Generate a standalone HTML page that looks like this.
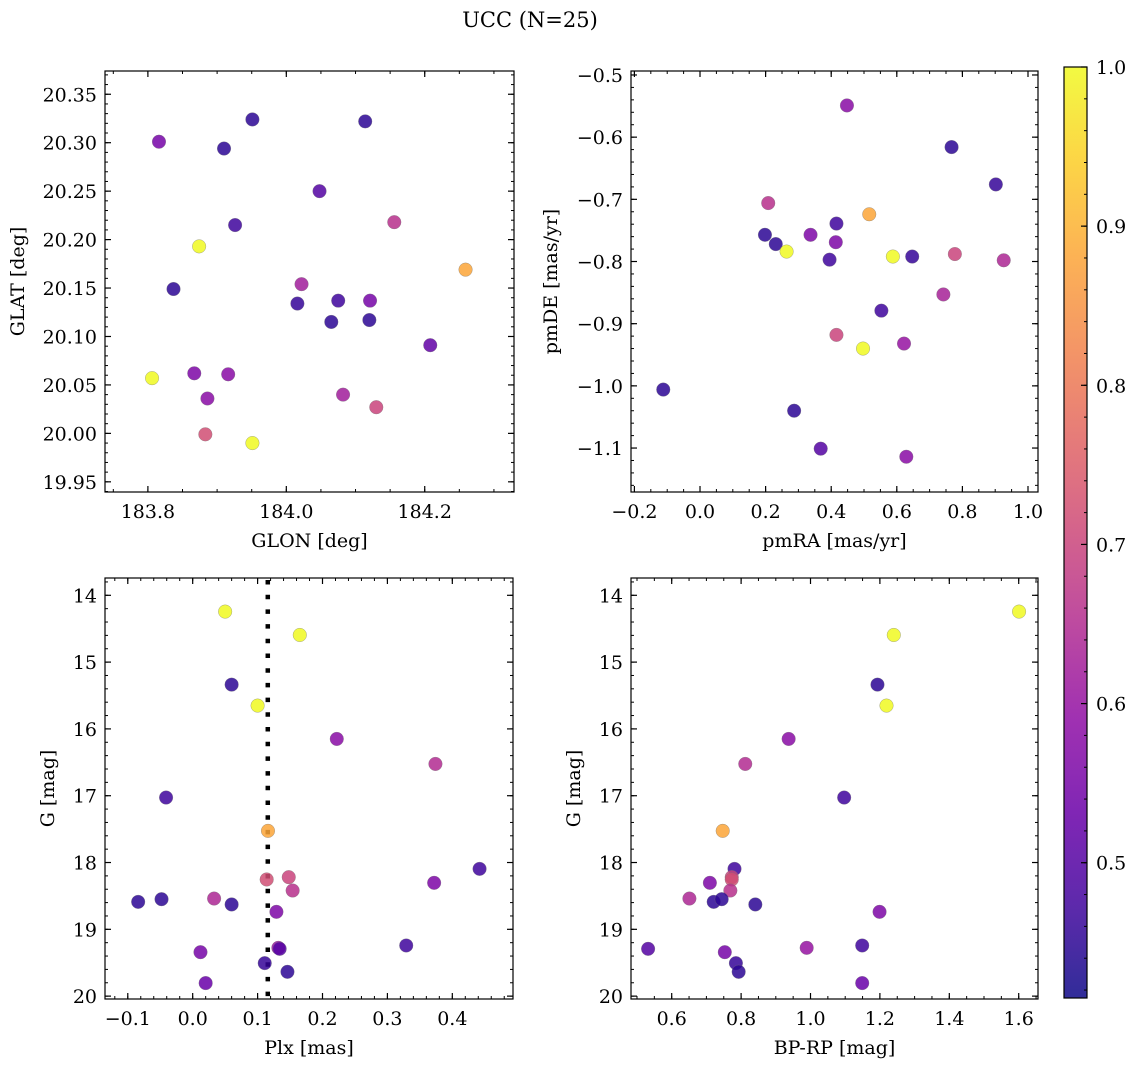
<!DOCTYPE html>
<html><head><meta charset="utf-8"><style>
html,body{margin:0;padding:0;background:#fff;}
svg{display:block;font-family:"DejaVu Serif","Liberation Serif",serif;}
</style></head><body>
<svg id="fig" width="1136" height="1067" viewBox="0 0 1136 1067" xmlns="http://www.w3.org/2000/svg">
<text x="530" y="27" font-size="21" text-anchor="middle">UCC (N=25)</text>
</svg>
<script>
const p1X=[183.816,183.910,183.951,184.114,184.048,183.926,183.874,184.156,184.259,184.022,183.837,184.016,184.075,184.121,184.065,184.120,184.208,183.806,183.867,183.916,183.886,184.082,184.130,183.883,183.951];
const p1Y=[20.301,20.294,20.324,20.322,20.250,20.215,20.193,20.218,20.169,20.154,20.149,20.134,20.137,20.137,20.115,20.117,20.091,20.057,20.062,20.061,20.036,20.040,20.027,19.999,19.990];
const p1C=[0.55,0.45,0.45,0.45,0.5,0.47,1.0,0.66,0.88,0.62,0.45,0.46,0.47,0.55,0.45,0.45,0.52,1.0,0.56,0.58,0.58,0.62,0.7,0.72,1.0];
const p2X=[0.448,0.767,0.902,0.208,0.516,0.416,0.198,0.337,0.231,0.414,0.264,0.395,0.588,0.647,0.777,0.926,0.742,0.553,0.416,0.497,0.622,-0.112,0.287,0.368,0.629];
const p2Y=[-0.549,-0.616,-0.676,-0.706,-0.724,-0.739,-0.757,-0.757,-0.772,-0.769,-0.784,-0.797,-0.792,-0.792,-0.788,-0.798,-0.853,-0.879,-0.918,-0.940,-0.932,-1.006,-1.040,-1.101,-1.114];
const p2C=[0.58,0.45,0.46,0.66,0.88,0.47,0.45,0.56,0.45,0.56,1.0,0.47,1.0,0.46,0.7,0.64,0.63,0.47,0.7,1.0,0.6,0.45,0.45,0.5,0.58];
const p3X=[0.050,0.165,0.060,0.100,0.222,0.374,-0.041,0.116,0.442,0.148,0.114,0.372,0.154,-0.084,-0.048,0.033,0.060,0.129,0.329,0.132,0.134,0.012,0.111,0.146,0.020];
const gMag=[14.244,14.594,15.337,15.651,16.150,16.524,17.027,17.526,18.095,18.219,18.254,18.304,18.419,18.589,18.549,18.539,18.628,18.738,19.242,19.277,19.292,19.342,19.506,19.636,19.805];
const p4X=[1.601,1.240,1.193,1.219,0.937,0.812,1.097,0.747,0.781,0.773,0.773,0.710,0.769,0.721,0.744,0.651,0.841,1.199,1.149,0.989,0.532,0.753,0.785,0.793,1.149];
const p34C=[1.0,1.0,0.45,1.0,0.58,0.65,0.47,0.88,0.47,0.7,0.72,0.56,0.66,0.45,0.45,0.64,0.45,0.56,0.47,0.6,0.5,0.55,0.46,0.45,0.53];
const plxLine=0.1157;
const p1XT=[183.8,184.0,184.2], p1YT=[19.95,20.00,20.05,20.10,20.15,20.20,20.25,20.30,20.35];
const p2XT=[-0.2,0.0,0.2,0.4,0.6,0.8,1.0], p2YT=[-1.1,-1.0,-0.9,-0.8,-0.7,-0.6,-0.5];
const p3XT=[-0.1,0.0,0.1,0.2,0.3,0.4], gT=[14,15,16,17,18,19,20];
const p4XT=[0.6,0.8,1.0,1.2,1.4,1.6];
const cbT=[0.5,0.6,0.7,0.8,0.9,1.0];
const VMIN=0.415, VMAX=1.0;

const NS="http://www.w3.org/2000/svg";
const FS=19;
const svg=document.getElementById('fig');
function mk(tag,attrs,parent){const e=document.createElementNS(NS,tag);for(const k in attrs)e.setAttribute(k,attrs[k]);(parent||svg).appendChild(e);return e;}
const stops=[[0,13,8,135],[0.1,65,4,157],[0.2,106,0,168],[0.3,143,13,164],[0.4,177,42,144],[0.5,204,71,120],[0.6,225,100,98],[0.7,242,132,75],[0.8,252,166,54],[0.9,252,206,37],[1,240,249,33]];
function plasma(t){t=Math.max(0,Math.min(1,t));for(let i=1;i<stops.length;i++){if(t<=stops[i][0]){const a=stops[i-1],b=stops[i],f=(t-a[0])/(b[0]-a[0]);return `rgb(${Math.round(a[1]+f*(b[1]-a[1]))},${Math.round(a[2]+f*(b[2]-a[2]))},${Math.round(a[3]+f*(b[3]-a[3]))})`;}}return 'rgb(240,249,33)';}
function cmap(v){return plasma((v-VMIN)/(VMAX-VMIN));}

function panel(cfg){
  const {name,L,T,R,B,xd,yd,inv,xt,yt,xmin,ymin,xdec,ydec,xlab,ylab,ylabX}=cfg;
  const g=mk('g',{});
  
  
  const sx=v=>L+(v-xd[0])/(xd[1]-xd[0])*(R-L);
  const sy=inv?(v=>T+(v-yd[0])/(yd[1]-yd[0])*(B-T)):(v=>B-(v-yd[0])/(yd[1]-yd[0])*(B-T));
  const mt=mk('g',{stroke:'#000','stroke-width':1},g);
  
  
  let s=Math.ceil((xd[0]-1e-9)/xmin);
  for(let v=s*xmin;v<=xd[1];v+=xmin){const x=sx(v);mk('line',{x1:x,x2:x,y1:B,y2:B-3},mt);mk('line',{x1:x,x2:x,y1:T,y2:T+3},mt);}
  const lo=Math.min(yd[0],yd[1]),hi=Math.max(yd[0],yd[1]);
  s=Math.ceil((lo-1e-9)/ymin);
  for(let v=s*ymin;v<=hi;v+=ymin){const y=sy(v);mk('line',{x1:L,x2:L+3,y1:y,y2:y},mt);mk('line',{x1:R,x2:R-3,y1:y,y2:y},mt);}
  const MT=mk('g',{stroke:'#000','stroke-width':1.2},g);
  
  
  xt.forEach(v=>{const x=sx(v);mk('line',{x1:x,x2:x,y1:B,y2:B-6},MT);mk('line',{x1:x,x2:x,y1:T,y2:T+6},MT);
    const t=mk('text',{x:x,y:B+26,'font-size':FS,'text-anchor':'middle'},g);t.textContent=(v<0?'\u2212':'')+Math.abs(v).toFixed(xdec);
    
    });
  yt.forEach(v=>{const y=sy(v);mk('line',{x1:L,x2:L+6,y1:y,y2:y},MT);mk('line',{x1:R,x2:R-6,y1:y,y2:y},MT);
    const t=mk('text',{x:L-8,y:y+7,'font-size':FS,'text-anchor':'end'},g);t.textContent=(v<0?'\u2212':'')+Math.abs(v).toFixed(ydec);
    
    });
  const xl=mk('text',{x:(L+R)/2,y:B+55,'font-size':FS,'text-anchor':'middle'},g);xl.textContent=xlab;
  
  
  const yl=mk('text',{x:0,y:0,'font-size':FS,'text-anchor':'middle',transform:`translate(${ylabX},${(T+B)/2}) rotate(-90)`},g);yl.textContent=ylab;
  
  
  const frame=mk('rect',{x:L,y:T,width:R-L,height:B-T,fill:'none',stroke:'#000','stroke-width':1.2},g);
  
  
  return {g,sx,sy};
}
function scatter(p,name,xs,ys,cs){
  const pg=mk('g',{},p.g);
  
  
  xs.forEach((x,i)=>{const c=mk('circle',{cx:p.sx(x),cy:p.sy(ys[i]),r:6.8,fill:cmap(cs[i]),'fill-opacity':0.85,stroke:'#777','stroke-width':0.4,'stroke-opacity':0.8},pg);
    
    });
}
const P1=panel({name:'glon-glat-panel',L:105,T:71,R:514,B:492,xd:[183.738,184.329],yd:[19.9395,20.374],inv:false,xt:p1XT,yt:p1YT,xmin:0.05,ymin:0.01,xdec:1,ydec:2,xlab:'GLON [deg]',ylab:'GLAT [deg]',ylabX:24});
scatter(P1,'glon-glat-points',p1X,p1Y,p1C);
const P2=panel({name:'pm-panel',L:631,T:71,R:1038,B:492,xd:[-0.2104,1.0305],yd:[-1.1707,-0.4936],inv:false,xt:p2XT,yt:p2YT,xmin:0.05,ymin:0.02,xdec:1,ydec:1,xlab:'pmRA [mas/yr]',ylab:'pmDE [mas/yr]',ylabX:557});
scatter(P2,'pm-points',p2X,p2Y,p2C);
const P3=panel({name:'plx-g-panel',L:105,T:578,R:513,B:999,xd:[-0.1351,0.4935],yd:[13.741,20.043],inv:true,xt:p3XT,yt:gT,xmin:0.02,ymin:0.2,xdec:1,ydec:0,xlab:'Plx [mas]',ylab:'G [mag]',ylabX:54});
const dl=mk('line',{x1:P3.sx(plxLine),x2:P3.sx(plxLine),y1:580,y2:999,stroke:'#000','stroke-width':4.5,'stroke-dasharray':'4.5 10.2'},P3.g);


scatter(P3,'plx-g-points',p3X,gMag,p34C);
const P4=panel({name:'cmd-panel',L:631,T:578,R:1038,B:999,xd:[0.4827,1.6556],yd:[13.741,20.043],inv:true,xt:p4XT,yt:gT,xmin:0.05,ymin:0.2,xdec:1,ydec:0,xlab:'BP-RP [mag]',ylab:'G [mag]',ylabX:580});
scatter(P4,'cmd-points',p4X,gMag,p34C);

const cb=mk('g',{});


const defs=mk('defs',{});
const lg=mk('linearGradient',{id:'cbg',x1:0,y1:1,x2:0,y2:0},defs);
for(let i=0;i<=20;i++){mk('stop',{offset:i/20,'stop-color':plasma(i/20)},lg);}
const CT=67,CB=998,CL=1064,CR=1087;
const cy=v=>CB-(v-VMIN)/(VMAX-VMIN)*(CB-CT);
const cr=mk('rect',{x:CL,y:CT,width:CR-CL,height:CB-CT,fill:'url(#cbg)','fill-opacity':0.85},cb);


for(let v=0.42;v<=1.0001;v+=0.02){const y=cy(v);mk('line',{x1:CR,x2:CR-3,y1:y,y2:y,stroke:'#000','stroke-width':1},cb);}
cbT.forEach(v=>{const y=cy(v);mk('line',{x1:CR,x2:CR-6,y1:y,y2:y,stroke:'#000','stroke-width':1.2},cb);
  const t=mk('text',{x:CR+9,y:y+7,'font-size':FS},cb);t.textContent=v.toFixed(1);
  
  });
mk('rect',{x:CL,y:CT,width:CR-CL,height:CB-CT,fill:'none',stroke:'#000','stroke-width':1.2},cb);
</script>
</body></html>
